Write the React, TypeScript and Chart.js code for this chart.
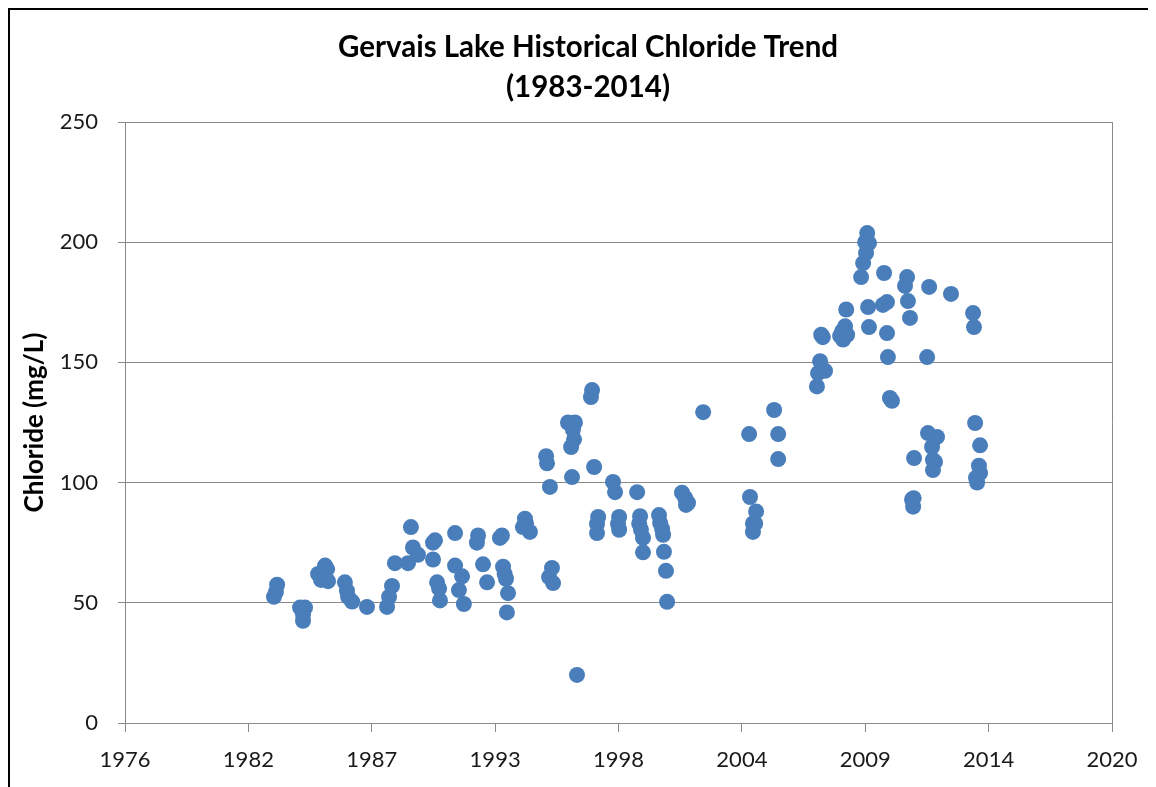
import React, { useEffect, useRef } from 'react';
import { Chart, registerables } from 'chart.js';

Chart.register(...registerables);

// Sampling dates (decimal years) and chloride concentrations (mg/L)
const SAMPLE_YEARS = [
  1983.40, 1983.35, 1983.26,
  1984.42, 1984.64, 1984.55, 1984.55,
  1985.22, 1985.53, 1985.62, 1985.35, 1985.66,
  1986.41, 1986.50, 1986.55, 1986.73,
  1987.39,
  1988.28, 1988.37, 1988.50, 1988.63,
  1989.21, 1989.34, 1989.43, 1989.65,
  1990.32, 1990.41, 1990.32, 1990.50, 1990.59, 1990.63,
  1991.30, 1991.30, 1991.61, 1991.47, 1991.69,
  1992.32, 1992.27, 1992.54, 1992.72,
  1993.38, 1993.29, 1993.43, 1993.50, 1993.56, 1993.65, 1993.60,
  1994.40, 1994.45, 1994.31, 1994.62,
  1995.34, 1995.38, 1995.51, 1995.60, 1995.47, 1995.65,
  1996.31, 1996.62, 1996.53, 1996.58, 1996.45, 1996.49, 1996.71,
  1997.38, 1997.33, 1997.47, 1997.65, 1997.60, 1997.60,
  1998.31, 1998.40, 1998.58, 1998.53, 1998.58,
  1999.38, 1999.51, 1999.47, 1999.55, 1999.64, 1999.64,
  2000.35, 2000.40, 2000.49, 2000.53, 2000.57, 2000.66, 2000.71,
  2001.37, 2001.51, 2001.64, 2001.55,
  2002.31,
  2004.35, 2004.39, 2004.66, 2004.52, 2004.62, 2004.52,
  2005.46, 2005.64, 2005.64,
  2007.36, 2007.41, 2007.50, 2007.72, 2007.55, 2007.62,
  2008.66, 2008.61, 2008.48, 2008.39, 2008.70, 2008.52,
  2009.32, 2009.41, 2009.54, 2009.50, 2009.67, 2009.59, 2009.63, 2009.67,
  2010.34, 2010.29, 2010.47, 2010.47, 2010.51, 2010.60, 2010.69,
  2011.27, 2011.36, 2011.40, 2011.49, 2011.67, 2011.58, 2011.65, 2011.63,
  2012.25, 2012.34, 2012.29, 2012.69, 2012.47, 2012.51, 2012.60, 2012.51,
  2013.31,
  2014.29, 2014.33, 2014.38, 2014.60, 2014.55, 2014.60, 2014.42, 2014.47,
];

const CHLORIDE_MG_L = [
  57.5, 54.5, 52.5,
  48, 48, 45, 42.5,
  62, 65.5, 64, 59.5, 59,
  58.5, 55, 52.5, 50.5,
  48.3,
  48.3, 52.5, 57, 66.5,
  66.5, 81.5, 73, 70,
  75, 76, 68, 58.5, 56, 51,
  79, 65.5, 61, 55.3, 49.5,
  78, 75, 66, 58.5,
  78, 77, 65, 62, 60, 54, 46,
  85, 83, 81.5, 79.5,
  111, 108, 98.2, 64.5, 60.7, 58.2,
  125, 125, 122, 118, 114.8, 102.3, 20,
  138.5, 135.6, 106.5, 85.7, 82.8, 79,
  100.3, 96, 85.7, 82.8, 80.4,
  96, 86, 83, 80.5, 77, 71,
  86.5, 83.2, 80.7, 78.3, 71.2, 63.3, 50.4,
  95.8, 93.6, 91.6, 90.7,
  129.3,
  120.2, 94, 88, 83, 83, 79.5,
  130.2, 120.2, 109.8,
  140, 145.5, 150.5, 146.5, 161.5, 160.5,
  172, 165, 163, 161, 161.5, 159.5,
  185.5, 191.3, 195.5, 200, 199.6, 203.8, 173, 164.7,
  187.2, 173.9, 175.1, 162.2, 152.2, 135.2, 134,
  181.8, 185.5, 175.5, 168.5, 110.2, 93, 93.5, 90,
  152.2, 181.4, 120.6, 119, 114.8, 109.4, 108.6, 105.2,
  178.5,
  170.5, 164.7, 124.8, 115.5, 107, 104, 102, 100,
];

// Date axis: ticks every 2000 days starting late Aug 1976, labelled by year
const X_AXIS_START = 1976.65;
const X_TICK_STEP = 5.4757;
const X_TICK_LABELS = ['1976', '1982', '1987', '1993', '1998', '2004', '2009', '2014', '2020'];

const Y_MIN = 0;
const Y_MAX = 250;
const Y_STEP = 50;

const TITLE_LINES = ['Gervais Lake Historical Chloride Trend', '(1983-2014)'];
const Y_TITLE = 'Chloride (mg/L)';

const FONT = 'Lato, "Open Sans", sans-serif';
const GRID = '#898989';

export default function App() {
  const ref = useRef<HTMLCanvasElement>(null);

  useEffect(() => {
    document.documentElement.style.overflow = 'hidden';
    const xTicks = X_TICK_LABELS.map((_, i) => X_AXIS_START + i * X_TICK_STEP);
    const chart = new Chart(ref.current as HTMLCanvasElement, {
      type: 'scatter',
      data: {
        datasets: [
          {
            label: 'Chloride',
            data: SAMPLE_YEARS.map((x, i) => ({ x, y: CHLORIDE_MG_L[i] })),
            backgroundColor: '#4A7EBB',
            borderColor: '#4A7EBB',
            borderWidth: 0,
            pointRadius: 8,
            pointHoverRadius: 8,
          },
        ],
      },
      options: {
        responsive: false,
        animation: false,
        devicePixelRatio: 1,
        layout: { padding: { left: 17, right: 0, top: 0, bottom: 0 } },
        plugins: {
          legend: { display: false },
          tooltip: { enabled: false },
          title: {
            display: true,
            text: TITLE_LINES,
            color: '#000',
            font: { family: FONT, size: 29.5, weight: 'bold', lineHeight: 40 / 29.5 },
            padding: { top: 17, bottom: 15 },
          },
        },
        scales: {
          x: {
            type: 'linear',
            min: xTicks[0],
            max: xTicks[xTicks.length - 1],
            afterBuildTicks: (s: any) => {
              s.ticks = xTicks.map((v) => ({ value: v }));
            },
            afterFit: (s: any) => {
              s.height = 64;
              s.paddingLeft = 0;
              s.paddingRight = 37;
            },
            ticks: {
              autoSkip: false,
              maxRotation: 0,
              callback: (_v: any, i: number) => X_TICK_LABELS[i],
              font: { family: FONT, size: 22 },
              color: '#1a1a1a',
              padding: 15,
            },
            grid: {
              color: (c: any) => (c.index === xTicks.length - 1 ? GRID : 'rgba(0,0,0,0)'),
              tickColor: GRID,
              tickLength: 9,
            },
            border: { color: GRID },
          },
          y: {
            min: Y_MIN,
            max: Y_MAX,
            afterFit: (s: any) => {
              s.width = 98;
            },
            ticks: {
              stepSize: Y_STEP,
              font: { family: FONT, size: 22 },
              color: '#1a1a1a',
              padding: 20,
            },
            grid: { color: GRID, tickLength: 7 },
            border: { color: GRID },
            title: {
              display: true,
              text: Y_TITLE,
              color: '#000',
              font: { family: FONT, size: 26, weight: 'bold', lineHeight: 0.6 },
              padding: { top: 0, bottom: 0 },
            },
          },
        },
      },
    } as any);
    return () => chart.destroy();
  }, []);

  return (
    <div
      style={{
        width: 1139,
        height: 777,
        border: '2px solid #000',
        borderBottom: 'none',
        background: '#fff',
      }}
    >
      <canvas ref={ref} width={1139} height={777} style={{ display: 'block', width: 1139, height: 777 }} />
    </div>
  );
}
